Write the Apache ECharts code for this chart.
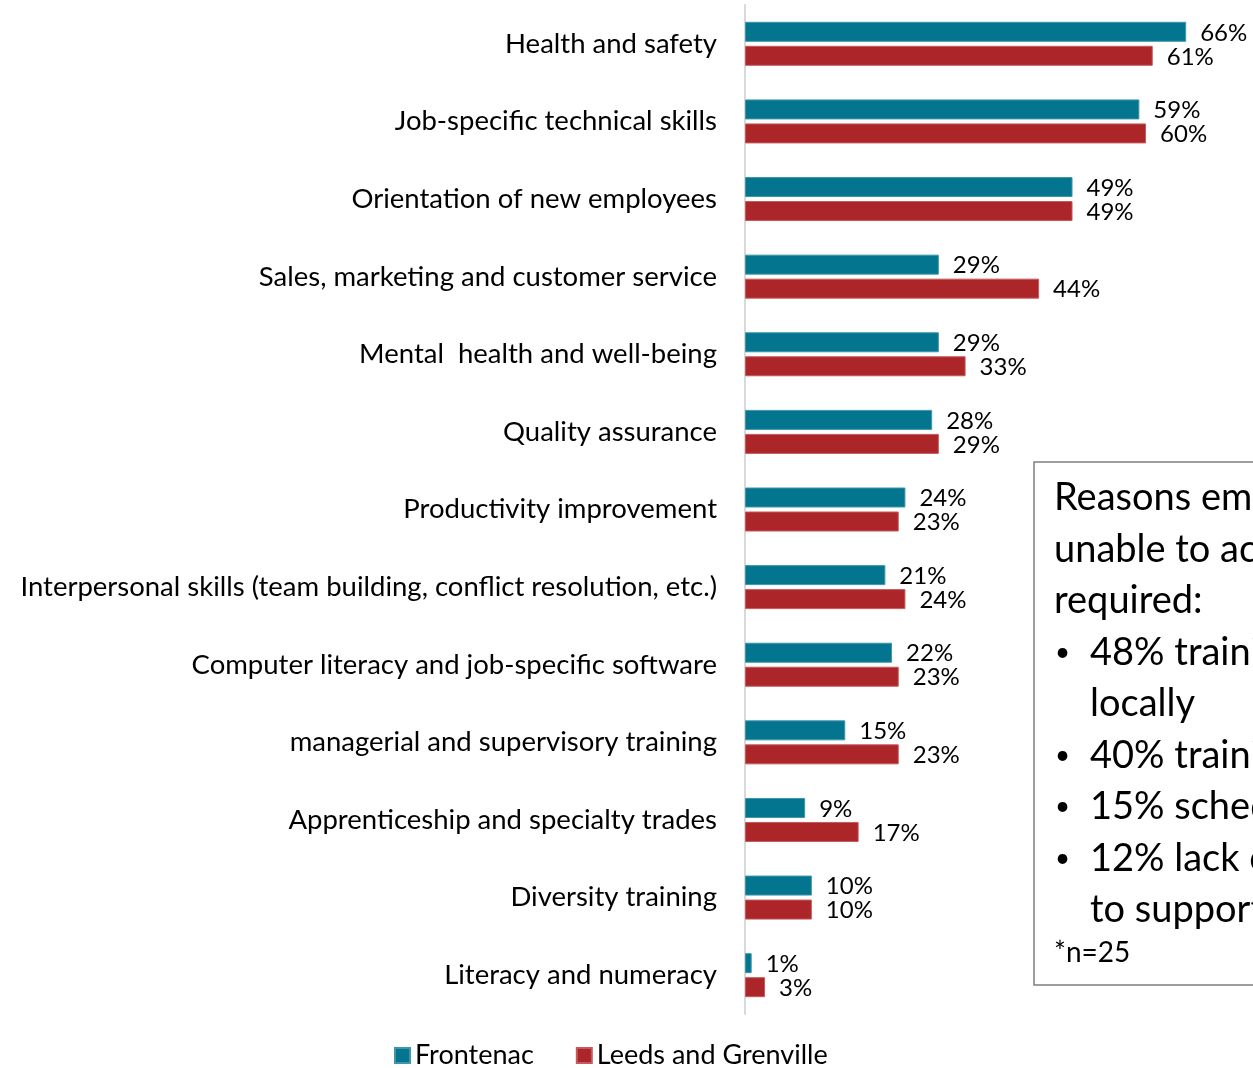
<!DOCTYPE html>
<html>
<head>
<meta charset="utf-8">
<script src="https://cdn.jsdelivr.net/npm/echarts@6/dist/echarts.min.js"></script>
<style>
  html, body { margin: 0; padding: 0; background: #fff; }
  #chart { width: 1253px; height: 1068px; }
</style>
</head>
<body>
<div id="chart"></div>
<script>
// Training areas, top to bottom
const categories = [
  'Health and safety',
  'Job-specific technical skills',
  'Orientation of new employees',
  'Sales, marketing and customer service',
  'Mental  health and well-being',
  'Quality assurance',
  'Productivity improvement',
  'Interpersonal skills (team building, conflict resolution, etc.)',
  'Computer literacy and job-specific software',
  'managerial and supervisory training',
  'Apprenticeship and specialty trades',
  'Diversity training',
  'Literacy and numeracy'
];

// Share of employers (%) by region
const frontenac = [66, 59, 49, 29, 29, 28, 24, 21, 22, 15, 9, 10, 1];
const leedsGrenville = [61, 60, 49, 44, 33, 29, 23, 24, 23, 23, 17, 10, 3];

const seriesNames = ['Frontenac', 'Leeds and Grenville'];

// Side note on barriers to training
const noteHeading = ['Reasons employers were', 'unable to access training', 'required:'];
const noteBullets = [
  ['48% training not available', 'locally'],
  ['40% training too costly'],
  ['15% scheduling conflicts'],
  ['12% lack of staff time', 'to support training']
];
const noteFootnote = '*n=25';

const FONT = 'Lato';
const chart = echarts.init(document.getElementById('chart'));

// Build the note's text lines as graphic elements
const noteElements = [{
  type: 'rect',
  shape: { x: 1034, y: 462, width: 400, height: 523 },
  style: { fill: '#fff', stroke: '#7f7f7f', lineWidth: 1.5 },
  z: 10
}];
const lineH = 51.5;
let y = 498;
noteHeading.forEach(t => {
  noteElements.push({ type: 'text', x: 1054, y: y, z: 11,
    style: { text: t, font: '38px ' + FONT, fill: '#000', textVerticalAlign: 'middle' } });
  y += lineH;
});
noteBullets.forEach(lines => {
  noteElements.push({ type: 'text', x: 1055, y: y, z: 11,
    style: { text: '•', font: '26px ' + FONT, fill: '#000', textVerticalAlign: 'middle' } });
  lines.forEach(t => {
    noteElements.push({ type: 'text', x: 1090, y: y, z: 11,
      style: { text: t, font: '38px ' + FONT, fill: '#000', textVerticalAlign: 'middle' } });
    y += lineH;
  });
});
noteElements.push({ type: 'text', x: 1054, y: 953, z: 11,
  style: { text: noteFootnote, font: '28px ' + FONT, fill: '#000', textVerticalAlign: 'middle' } });

const barLabel = {
  show: true,
  position: 'right',
  distance: 14,
  offset: [0, 1],
  formatter: p => p.value + '%',
  fontFamily: FONT,
  fontSize: 24,
  color: '#000'
};

chart.setOption({
  animation: false,
  backgroundColor: '#fff',
  textStyle: { fontFamily: FONT },
  grid: { left: 745, top: 5, right: 0, height: 1009, outerBoundsMode: 'none' },
  legend: {
    data: seriesNames,
    left: 394,
    top: 1042,
    padding: 0,
    icon: 'rect',
    itemWidth: 15,
    itemHeight: 15,
    itemGap: 42,
    textStyle: { fontFamily: FONT, fontSize: 27, color: '#000' }
  },
  xAxis: {
    type: 'value',
    min: 0,
    max: 76,
    show: false
  },
  yAxis: {
    type: 'category',
    data: categories,
    inverse: true,
    axisLine: { show: true, lineStyle: { color: '#d9d9d9', width: 2 } },
    axisTick: { show: false },
    axisLabel: { margin: 28, fontFamily: FONT, fontSize: 27.5, color: '#000' }
  },
  series: [
    {
      name: seriesNames[0],
      type: 'bar',
      data: frontenac,
      barWidth: 20,
      barGap: '20%',
      itemStyle: { color: '#03758f', borderColor: '#3f95aa', borderWidth: 1 },
      label: barLabel
    },
    {
      name: seriesNames[1],
      type: 'bar',
      data: leedsGrenville,
      barWidth: 20,
      itemStyle: { color: '#ab2529', borderColor: '#c45a5d', borderWidth: 1 },
      label: barLabel
    }
  ],
  graphic: noteElements
});
</script>
</body>
</html>
